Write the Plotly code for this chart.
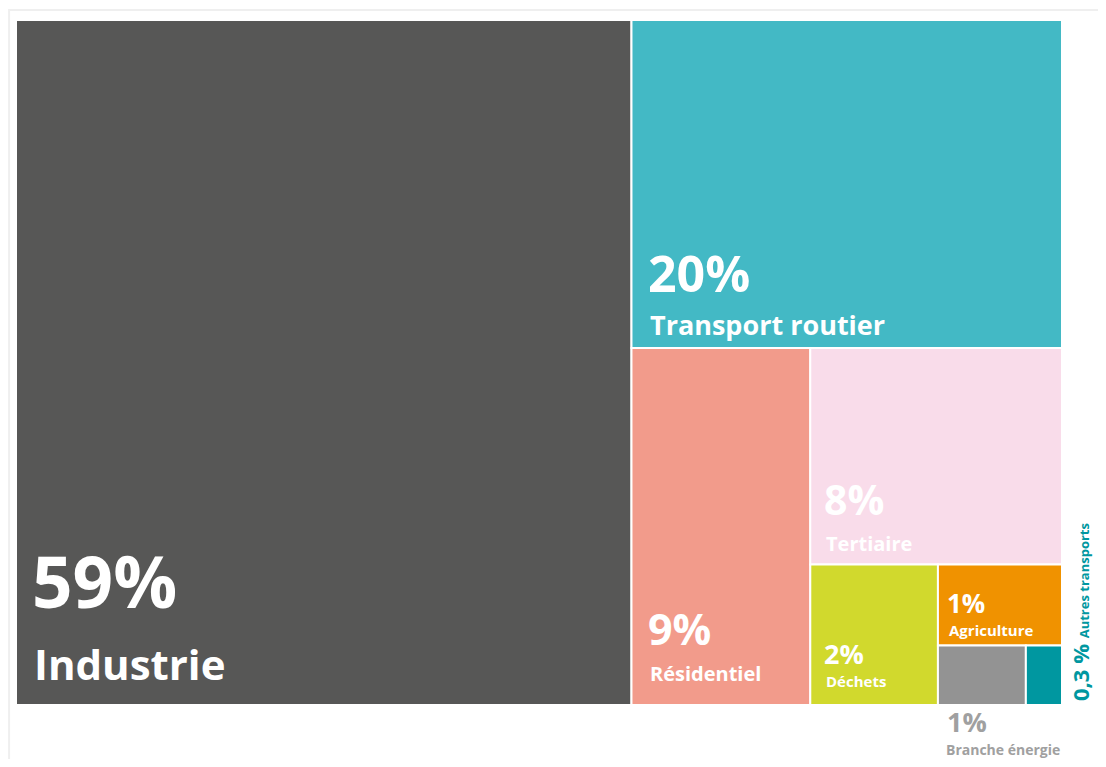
import plotly.graph_objects as go

# ---- data ----
categories = ["Industrie", "Transport routier", "Résidentiel", "Tertiaire",
              "Déchets", "Agriculture", "Branche énergie", "Autres transports"]
values = [58.8, 19.7, 8.9, 7.6, 2.5, 1.4, 0.73, 0.3]
pct_labels = ["59%", "20%", "9%", "8%", "2%", "1%", "1%", "0,3 %"]
colors = ["#575756", "#43B9C5", "#F29B8B", "#F9DCEA",
          "#D1D92D", "#F09200", "#939393", "#0097A0"]

# ---- style (font sizes, offsets) ----
pct_size = [71, 50, 43, 41, 27, 26, 27, 22]
name_size = [42, 27, 20, 20, 15, 15, 14, 13]
FONT = "Open Sans"

# ---- alternating slice layout computed from values ----
rects = []
x0, y0, x1, y1 = 0.0, 0.0, 1.0, 1.0
remaining = sum(values)
for i, v in enumerate(values):
    if i == len(values) - 1:
        rects.append((x0, y0, x1, y1))
        break
    f = v / remaining
    if i % 2 == 0:  # take left part
        xm = x0 + (x1 - x0) * f
        rects.append((x0, y0, xm, y1))
        x0 = xm
    else:  # take top part
        ym = y1 - (y1 - y0) * f
        rects.append((x0, ym, x1, y1))
        y1 = ym
    remaining -= v

fig = go.Figure()
fig.add_trace(go.Bar(
    x=[(r[0] + r[2]) / 2 for r in rects],
    width=[r[2] - r[0] for r in rects],
    base=[r[1] for r in rects],
    y=[r[3] - r[1] for r in rects],
    marker=dict(color=colors, line=dict(color="white", width=2)),
    hovertext=categories, hoverinfo="text",
    showlegend=False,
))

# inside labels
insets = [16, 17, 17, 14, 14, 9]
name_off = [11, 3, 16, 6, 12, 3]
pct_gap = [20, 9, 9, 10, 4, 4]
for i in range(6):
    r = rects[i]
    fig.add_annotation(x=r[0], y=r[1], xref="x", yref="y",
                       xanchor="left", yanchor="bottom",
                       xshift=insets[i], yshift=name_off[i],
                       text="<b>%s</b>" % categories[i], showarrow=False,
                       font=dict(family=FONT, size=name_size[i], color="white"))
    fig.add_annotation(x=r[0], y=r[1], xref="x", yref="y",
                       xanchor="left", yanchor="bottom",
                       xshift=insets[i] - 2,
                       yshift=name_off[i] + name_size[i] * 1.2 + pct_gap[i] - pct_size[i] * 0.1,
                       text="<b>%s</b>" % pct_labels[i], showarrow=False,
                       font=dict(family=FONT, size=pct_size[i], color="white"))

# Branche énergie: label below the tile
r = rects[6]
fig.add_annotation(x=r[0], y=r[1], xref="x", yref="y",
                   xanchor="left", yanchor="top", xshift=7, yshift=4,
                   text="<b>%s</b>" % pct_labels[6], showarrow=False,
                   font=dict(family=FONT, size=pct_size[6], color="#A0A0A0"))
fig.add_annotation(x=r[0], y=r[1], xref="x", yref="y",
                   xanchor="left", yanchor="top", xshift=7, yshift=-34,
                   borderpad=0,
                   text="<b>%s</b>" % categories[6], showarrow=False,
                   font=dict(family=FONT, size=name_size[6], color="#A0A0A0"))

# Autres transports: rotated label to the right
r = rects[7]
fig.add_annotation(x=r[2], y=r[1], xref="x", yref="y",
                   xanchor="left", yanchor="bottom", xshift=1, yshift=2,
                   textangle=-90,
                   text="<b>%s</b> <span style='font-size:%dpx'><b>%s</b></span>"
                        % (pct_labels[7], name_size[7], categories[7]),
                   showarrow=False,
                   font=dict(family=FONT, size=pct_size[7], color="#0097A0"))

# faint outer frame
fig.add_shape(type="rect", xref="paper", yref="paper",
              x0=-0.0066, y0=-0.2, x1=1.06, y1=1.0145,
              line=dict(color="#EFEFEF", width=2), layer="below")

fig.update_layout(
    width=1090, height=751,
    margin=dict(l=8, r=36, t=12, b=54),
    paper_bgcolor="white", plot_bgcolor="white",
    barmode="overlay",
    xaxis=dict(range=[0, 1], visible=False, fixedrange=True),
    yaxis=dict(range=[0, 1], visible=False, fixedrange=True),
    font=dict(family=FONT),
)

fig.write_html("out.html")
